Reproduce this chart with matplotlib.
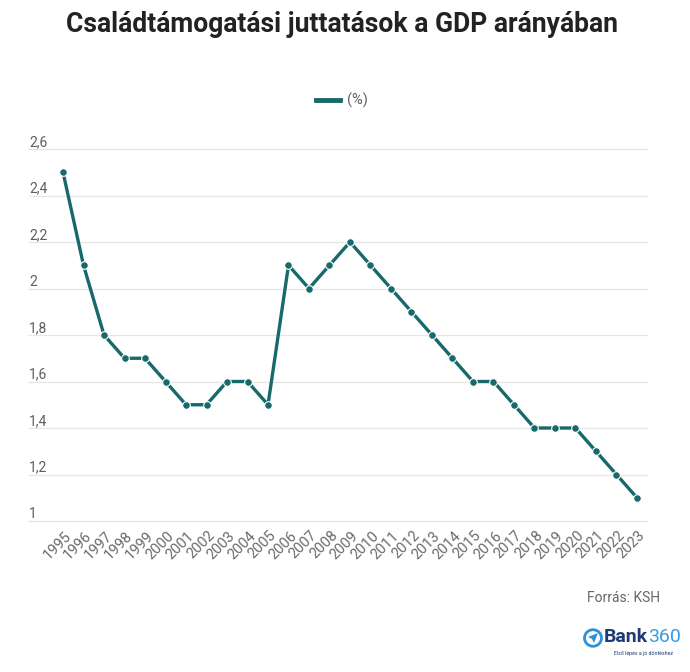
import matplotlib
matplotlib.use("Agg")
import matplotlib.pyplot as plt
from matplotlib import font_manager
from matplotlib.transforms import ScaledTranslation
from matplotlib.patches import Circle, Polygon

# data
years = list(range(1995, 2024))
share = [2.5, 2.1, 1.8, 1.7, 1.7, 1.6, 1.5, 1.5, 1.6, 1.6, 1.5,
         2.1, 2.0, 2.1, 2.2, 2.1, 2.0, 1.9, 1.8, 1.7, 1.6, 1.6,
         1.5, 1.4, 1.4, 1.4, 1.3, 1.2, 1.1]
y_ticks = [1.0, 1.2, 1.4, 1.6, 1.8, 2.0, 2.2, 2.4, 2.6]
y_labels = ["1", "1,2", "1,4", "1,6", "1,8", "2", "2,2", "2,4", "2,6"]

TITLE = "Családtámogatási juttatások a GDP arányában"
SERIES = "(%)"
SOURCE = "Forrás: KSH"

TEAL = "#17696b"
GRID = "#e6e6e6"
LABEL = "#5f5f5f"

W, H = 690, 672
plt.rcParams["font.family"] = ["Roboto", "DejaVu Sans"]
fig = plt.figure(figsize=(W / 100, H / 100), dpi=100)
fig.patch.set_facecolor("white")


def fx(x):
    return x / W


def fy(y):
    return 1 - y / H


# plot area in pixel terms: x 29..647, y 149..521
ax = fig.add_axes([fx(29), fy(521), (647 - 29) / W, (521 - 149) / H])
ax.plot(years, share, color=TEAL, lw=2.4, marker="o", ms=5.5,
        markerfacecolor=TEAL, markeredgecolor="white", markeredgewidth=0.8,
        solid_capstyle="round", zorder=3, clip_on=False)
ax.set_xlim(1993.34, 2023.49)
ax.set_ylim(1.0, 2.6)
for s in ax.spines.values():
    s.set_visible(False)

ax.set_yticks(y_ticks)
ax.tick_params(axis="y", length=0, labelleft=False)
ax.grid(axis="y", color=GRID, lw=0.9)
for gl in ax.get_ygridlines():
    gl.set_clip_on(False)
for v, lab in zip(y_ticks, y_labels):
    ax.text(0.0, v, lab, transform=ax.get_yaxis_transform(),
            ha="left", va="bottom", fontsize=10, color=LABEL)

ax.set_xticks(years)
ax.set_xticklabels([str(y) for y in years], rotation=45, ha="right",
                   rotation_mode="anchor", va="center", fontsize=10.5,
                   color="#6a6a6a")
ax.tick_params(axis="x", length=0, pad=9)
shift = ScaledTranslation(6 / 100, 0, fig.dpi_scale_trans)
for t in ax.get_xticklabels():
    t.set_transform(t.get_transform() + shift)

# title, fitted to the reference width
names = {f.name for f in font_manager.fontManager.ttflist}
title_family = ["Liberation Sans Narrow"] if "Liberation Sans Narrow" in names else ["Roboto", "DejaVu Sans"]
title = fig.text(fx(342), fy(24), TITLE, ha="center", va="center",
                 fontsize=17, fontweight="bold", color="#222222",
                 family=title_family)
r = fig.canvas.get_renderer()
wpx = title.get_window_extent(r).width
title.set_fontsize(17 * 553 / wpx)

# legend
fig.add_artist(plt.Line2D([fx(316), fx(340)], [fy(100), fy(100)],
                          color=TEAL, lw=3.5, transform=fig.transFigure))
fig.text(fx(347), fy(100), SERIES, ha="left", va="center", fontsize=10.5,
         color=LABEL)

# source
fig.text(fx(660), fy(598), SOURCE, ha="right", va="center", fontsize=10,
         color="#666666")

# logo
BLUE = "#2f8fd8"
cx, cy = 593, 638
fig.add_artist(Circle((fx(cx), fy(cy)), 8.5 / W, transform=fig.transFigure,
                      fill=False, ec=BLUE, lw=2))
fig.add_artist(Polygon([(fx(cx + 5), fy(cy - 5)), (fx(cx - 5), fy(cy - 1)),
                        (fx(cx - 1), fy(cy + 1)), (fx(cx + 1), fy(cy + 5))],
                       closed=True, transform=fig.transFigure,
                       fc=BLUE, ec="none"))
bank = fig.text(fx(604), fy(637), "Bank", ha="left", va="center",
                fontsize=14, fontweight="bold", color="#1f3b73")
bw = bank.get_window_extent(r).width
fig.text(fx(604) + bw / W, fy(637), "360", ha="left", va="center",
         fontsize=14, color="#3b9be0")
fig.text(fx(643), fy(653), "Első lépés a jó döntéshez", ha="center",
         va="center", fontsize=3.8, color="#1f3b73")

fig.savefig("out.png", dpi=100, facecolor="white")
